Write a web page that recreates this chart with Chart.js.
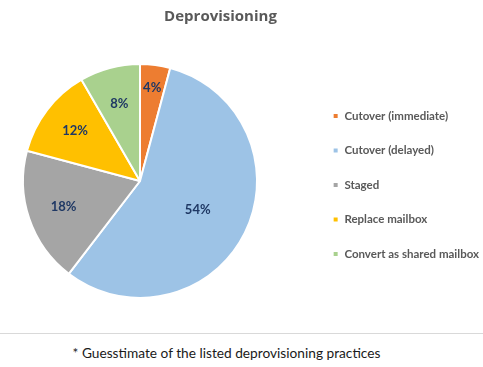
<!DOCTYPE html>
<html>
<head>
<meta charset="utf-8">
<script src="https://cdn.jsdelivr.net/npm/chart.js@4.4.1/dist/chart.umd.min.js"></script>
<style>
  html, body { margin: 0; padding: 0; background: #fff; }
  #wrap { position: relative; width: 483px; height: 367px; overflow: hidden; }
  #chartBox { position: absolute; left: 0; top: 0; width: 483px; height: 333px; }
  #rule { position: absolute; left: 0; top: 333px; width: 483px; height: 0; border-top: 1px solid #d9d9d9; }
  #note { position: absolute; left: 0; top: 344px; width: 453px; text-align: center;
          font: 13.7px Lato, 'Open Sans', sans-serif; color: #1a1a1a; }
</style>
</head>
<body>
<div id="wrap">
  <div id="chartBox"><canvas id="pie"></canvas></div>
  <div id="rule"></div>
  <div id="note">* Guesstimate of the listed deprovisioning practices</div>
</div>
<script>
// values are shown as-is with a % sign (they add up to 96, Excel-style)
const categories = ['Cutover (immediate)', 'Cutover (delayed)', 'Staged', 'Replace mailbox', 'Convert as shared mailbox'];
const shares = [4, 54, 18, 12, 8];
const sliceColors = ['#ED7D31', '#9DC3E6', '#A5A5A5', '#FFC000', '#A9D18E'];
// how far out each label sits, as a fraction of the radius
const labelDist = [0.8, 0.55, 0.69, 0.7, 0.68];

const PIE_AREA_W = 280;
const TITLE_SPAN = 441;

// Excel-ish layout: pie on the left with a gap before the legend,
// title centred over the plot rather than the whole canvas
const excelLayout = {
  id: 'excelLayout',
  afterLayout(chart) {
    const a = chart.chartArea;
    a.right = a.left + PIE_AREA_W;
    a.width = PIE_AREA_W;

    const t = chart.titleBlock;
    if (t) { t.right = t.left + TITLE_SPAN; t.width = TITLE_SPAN; }

    const lg = chart.legend;
    if (lg) {
      lg.top = a.top + 4;
      lg.bottom = a.bottom + 4;
      lg.height = lg.bottom - lg.top;
      lg.left += 6;
      lg.right += 6;
    }
  }
};

const sliceLabels = {
  id: 'sliceLabels',
  afterDatasetsDraw(chart) {
    const ctx = chart.ctx;
    const meta = chart.getDatasetMeta(0);
    ctx.save();
    ctx.font = "bold 13px Lato, 'Open Sans', sans-serif";
    ctx.fillStyle = '#1F3864';
    ctx.textAlign = 'center';
    ctx.textBaseline = 'middle';
    meta.data.forEach((arc, i) => {
      const p = arc.getProps(['x', 'y', 'startAngle', 'endAngle', 'outerRadius'], true);
      const mid = (p.startAngle + p.endAngle) / 2;
      const r = p.outerRadius * labelDist[i];
      ctx.fillText(shares[i] + '%', p.x + Math.cos(mid) * r, p.y + Math.sin(mid) * r);
    });
    ctx.restore();
  }
};

new Chart(document.getElementById('pie'), {
  type: 'pie',
  data: {
    labels: categories,
    datasets: [{
      data: shares,
      backgroundColor: sliceColors,
      borderColor: '#ffffff',
      borderWidth: 2,
    }],
  },
  options: {
    responsive: true,
    maintainAspectRatio: false,
    animation: false,
    layout: { padding: { left: 0, right: 0, top: 0, bottom: 34 } },
    plugins: {
      title: {
        display: true,
        text: 'Deprovisioning',
        color: '#595959',
        font: { family: "'Open Sans', Lato, sans-serif", size: 15, weight: 'bold' },
        padding: { top: 8, bottom: 37 },
      },
      legend: {
        position: 'right',
        labels: {
          boxWidth: 6,
          boxHeight: 6,
          padding: 23,
          color: '#595959',
          font: { family: "Lato, 'Open Sans', sans-serif", size: 11.5, weight: 'bold' },
        },
      },
      tooltip: { enabled: false },
    },
  },
  plugins: [excelLayout, sliceLabels],
});
</script>
</body>
</html>
